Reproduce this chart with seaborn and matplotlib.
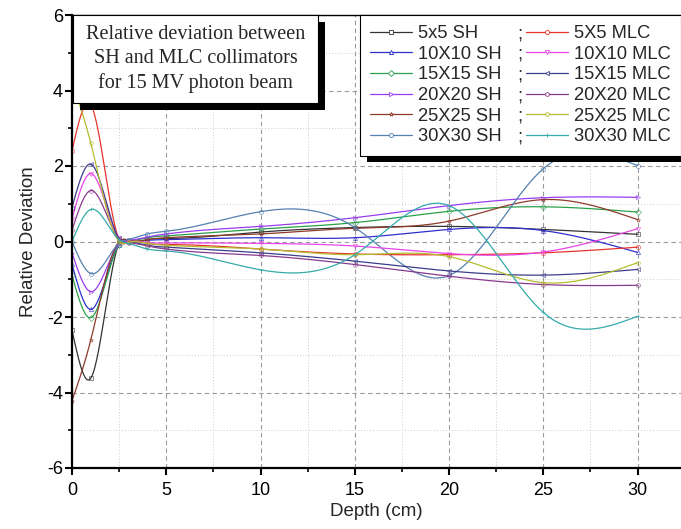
import numpy as np
import pandas as pd
import matplotlib
matplotlib.use("Agg")
import matplotlib.pyplot as plt
import seaborn as sns
from matplotlib.lines import Line2D
from matplotlib.patches import Rectangle
from matplotlib import patheffects as pe
from matplotlib.ticker import MultipleLocator

# depths (cm) where the relative deviation was sampled
DEPTH = [0, 1, 2.5, 3, 4, 5, 10, 15, 20, 25, 30]

# relative deviation, shielding (SH) and multileaf (MLC) collimators
SH_5 = [-2.35, -3.62, -0.05, 0.02, 0.05, 0.08, 0.25, 0.37, 0.40, 0.32, 0.19]
MLC_5 = [2.40, 3.62, 0.05, -0.02, -0.05, -0.08, -0.20, -0.33, -0.35, -0.30, -0.15]
SH_10 = [-0.60, -1.80, -0.08, 0.00, 0.03, 0.05, 0.10, 0.10, 0.32, 0.29, -0.29]
MLC_10 = [0.60, 1.80, 0.08, 0.00, -0.03, -0.04, -0.05, -0.12, -0.32, -0.28, 0.34]
SH_15 = [-0.90, -2.02, -0.08, 0.02, 0.10, 0.15, 0.33, 0.50, 0.80, 0.92, 0.78]
MLC_15 = [0.90, 2.05, 0.08, -0.02, -0.10, -0.15, -0.30, -0.52, -0.78, -0.89, -0.74]
SH_20 = [-0.30, -1.33, -0.06, 0.03, 0.12, 0.20, 0.40, 0.63, 0.95, 1.16, 1.17]
MLC_20 = [0.30, 1.35, 0.06, -0.03, -0.12, -0.20, -0.37, -0.61, -0.92, -1.14, -1.16]
SH_25 = [-4.22, -2.60, 0.00, 0.02, 0.05, 0.10, 0.20, 0.35, 0.54, 1.11, 0.58]
MLC_25 = [4.22, 2.60, 0.00, -0.02, -0.05, -0.10, -0.20, -0.35, -0.40, -1.09, -0.56]
SH_30 = [0.00, -0.85, -0.05, 0.05, 0.20, 0.27, 0.79, 0.37, -0.90, 1.93, 2.01]
MLC_30 = [0.00, 0.85, 0.05, -0.05, -0.20, -0.25, -0.75, -0.35, 0.95, -1.88, -1.98]

SH_LABELS = ["5x5 SH", "10X10 SH", "15X15 SH", "20X20 SH", "25X25 SH", "30X30 SH"]
MLC_LABELS = ["5X5 MLC", "10X10 MLC", "15X15 MLC", "20X20 MLC", "25X25 MLC", "30X30 MLC"]
SH_VALUES = [SH_5, SH_10, SH_15, SH_20, SH_25, SH_30]
MLC_VALUES = [MLC_5, MLC_10, MLC_15, MLC_20, MLC_25, MLC_30]

SH_COLORS = ["#333333", "#2f2fd0", "#2aa04a", "#9a3cf0", "#8e3b2a", "#5580b0"]
MLC_COLORS = ["#e8352c", "#e845e8", "#3d3d8c", "#8a3a8e", "#b4bc30", "#36aaaa"]
SH_MARKERS = ["s", "^", "D", ">", "*", "o"]
MLC_MARKERS = ["o", "v", "<", "h", "p", "+"]


def spline(x, y, n=600):
    """Natural cubic spline through the points (Origin 'spline' connect)."""
    x = np.asarray(x, float)
    y = np.asarray(y, float)
    h = np.diff(x)
    m = len(x)
    A = np.zeros((m, m))
    b = np.zeros(m)
    A[0, 0] = A[-1, -1] = 1.0
    for i in range(1, m - 1):
        A[i, i - 1] = h[i - 1]
        A[i, i] = 2 * (h[i - 1] + h[i])
        A[i, i + 1] = h[i]
        b[i] = 3 * ((y[i + 1] - y[i]) / h[i] - (y[i] - y[i - 1]) / h[i - 1])
    c = np.linalg.solve(A, b)
    bb = (y[1:] - y[:-1]) / h - h * (2 * c[:-1] + c[1:]) / 3
    d = (c[1:] - c[:-1]) / (3 * h)
    xs = np.linspace(x[0], x[-1], n)
    k = np.clip(np.searchsorted(x, xs) - 1, 0, m - 2)
    t = xs - x[k]
    ys = y[k] + bb[k] * t + c[k] * t ** 2 + d[k] * t ** 3
    return xs, ys


sns.set_theme(style="white")
plt.rcParams["font.family"] = ["Liberation Sans", "DejaVu Sans"]
plt.rcParams["axes.unicode_minus"] = False

W, H = 681, 529
fig = plt.figure(figsize=(W / 100, H / 100), dpi=100)
ax = fig.add_axes([72 / W, 1 - 468 / H, 609 / W, 453 / H])

series = list(zip(SH_LABELS, SH_VALUES, SH_COLORS, SH_MARKERS)) + \
         list(zip(MLC_LABELS, MLC_VALUES, MLC_COLORS, MLC_MARKERS))

for label, vals, color, marker in series:
    xs, ys = spline(DEPTH, vals)
    sns.lineplot(x=xs, y=ys, color=color, lw=0.9, sort=False,
                 estimator=None, ax=ax, legend=False)
    ax.plot(DEPTH, vals, ls="none", marker=marker, ms=3, mfc="none",
            mec=color, mew=0.5, alpha=0.8)

ax.set_xlim(0, 32.3)
ax.set_ylim(-6, 6)
ax.xaxis.set_major_locator(MultipleLocator(5))
ax.xaxis.set_minor_locator(MultipleLocator(2.5))
ax.yaxis.set_major_locator(MultipleLocator(2))
ax.yaxis.set_minor_locator(MultipleLocator(1))
ax.set_axisbelow(True)
ax.grid(which="major", color="#9a9a9a", ls=(0, (4, 3)), lw=0.8)
ax.grid(which="minor", color="#cccccc", ls=(0, (1, 2)), lw=0.7)

for side in ["left", "bottom"]:
    ax.spines[side].set_linewidth(1.6)
    ax.spines[side].set_color("black")
ax.spines["top"].set_linewidth(1.0)
ax.spines["top"].set_color("black")
ax.spines["right"].set_visible(False)

ax.tick_params(which="both", direction="out", bottom=True, left=True,
               top=False, right=False, colors="black")
ax.tick_params(which="major", length=5, width=1.5, labelsize=13)
ax.tick_params(which="minor", length=3, width=1.2)
ax.tick_params(axis="x", which="major", pad=5)
ax.tick_params(axis="y", which="major", pad=1.5)

ax.set_xlabel("Depth (cm)", fontsize=13.5, labelpad=3)
ax.set_ylabel("Relative Deviation", fontsize=13.5, labelpad=7)

# title box with hard black shadow
shadow = [pe.SimplePatchShadow(offset=(5, -5), shadow_rgbFace="black", alpha=1.0),
          pe.Normal()]
box = Rectangle((0.002, 1 - 88 / 453), 245 / 609, 88 / 453,
                transform=ax.transAxes, fc="white", ec="black", lw=0.8,
                zorder=9, clip_on=False)
box.set_path_effects(shadow)
ax.add_patch(box)
ax.text((195.5 - 72) / 609, (468 - 59) / 453,
        "Relative deviation between\nSH and MLC collimators\nfor 15 MV photon beam",
        family=["Liberation Serif", "DejaVu Serif"], fontsize=14.5,
        ha="center", va="center", linespacing=1.35, zorder=10,
        transform=ax.transAxes)

handles = [Line2D([0], [0], color=c, lw=0.9, marker=m, ms=3, mfc="white",
                  mec=c, mew=0.6) for _, _, c, m in series]
labels = [s[0] for s in series]
leg = ax.legend(handles, labels, ncol=2, loc="upper left",
                bbox_to_anchor=(360 / W, 1 - 15 / H), bbox_transform=fig.transFigure,
                frameon=True, fancybox=False, edgecolor="black", facecolor="white",
                framealpha=1, fontsize=13.2, handlelength=2.3, handletextpad=0.3,
                columnspacing=1.35, labelspacing=0.2, borderpad=0.55,
                borderaxespad=0, numpoints=1)
leg.get_frame().set_linewidth(0.8)
leg.get_frame().set_path_effects(shadow)
leg.set_zorder(10)

# ";" separators between the SH and MLC columns
fig.canvas.draw()
for t in leg.get_texts()[:6]:
    bb = t.get_window_extent()
    fig.text(520 / W, bb.y0 / fig.bbox.height, ";", fontsize=13.2,
             ha="center", va="bottom", zorder=11)

fig.savefig("out.png", dpi=100)
